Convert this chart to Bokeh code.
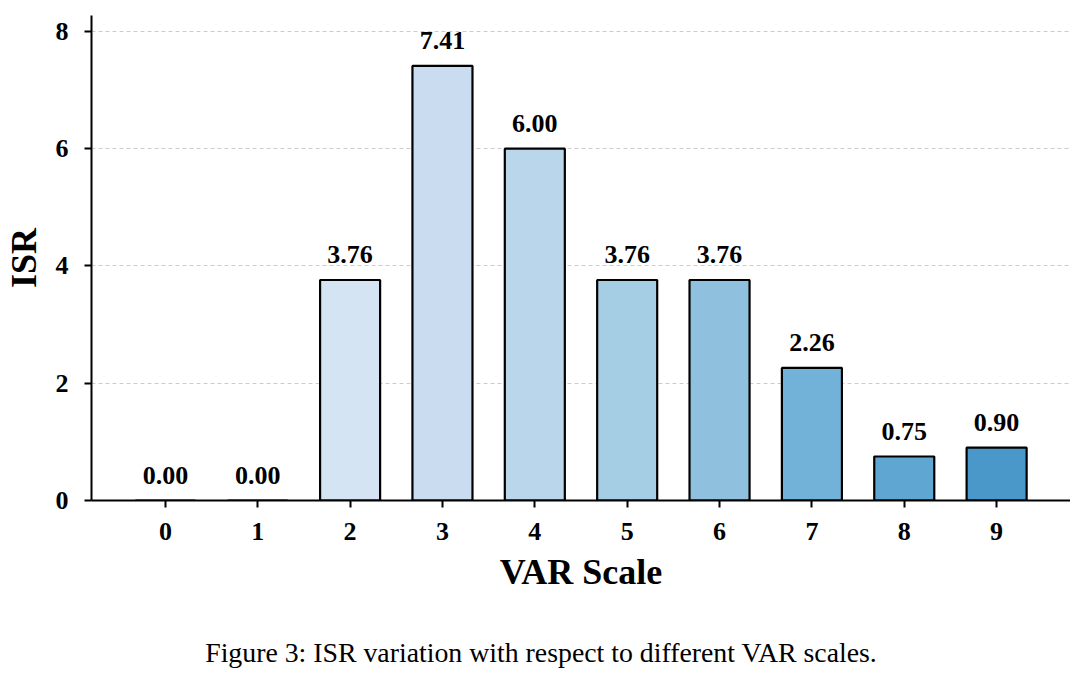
from bokeh.plotting import figure
from bokeh.models import ColumnDataSource, FixedTicker, Range1d, LabelSet, Div
from bokeh.layouts import column
from bokeh.embed import file_html
from bokeh.resources import INLINE

scales = [0, 1, 2, 3, 4, 5, 6, 7, 8, 9]
isr = [0.00, 0.00, 3.76, 7.41, 6.00, 3.76, 3.76, 2.26, 0.75, 0.90]
colors = ["#e3eef9", "#dbe9f6", "#d4e4f3", "#c9dcf0", "#bad6eb", "#a5cde3",
          "#8fc1de", "#73b2d8", "#60a6d2", "#4a98c9"]
labels = [f"{v:.2f}" for v in isr]
y_ticks = [0, 2, 4, 6, 8]
caption = "Figure 3: ISR variation with respect to different VAR scales."

FONT = "Liberation Serif"

src = ColumnDataSource(dict(x=scales, top=isr, color=colors, label=labels))

p = figure(width=1070, height=630, output_backend="svg", toolbar_location=None,
           x_range=Range1d(-0.8, 9.8), y_range=Range1d(0, 8.27),
           min_border_top=15, min_border_right=0, min_border_left=90,
           min_border_bottom=130)

p.vbar(x="x", top="top", width=0.65, bottom=0, source=src, fill_color="color",
       line_color="black", line_width=2.2)

p.add_layout(LabelSet(x="x", y="top", text="label", source=src, text_align="center",
                      text_baseline="bottom", y_offset=17, text_font=FONT,
                      text_font_style="bold", text_font_size="26px", text_color="black"))

p.outline_line_color = None
p.xgrid.grid_line_color = None
p.ygrid.grid_line_color = "#cccccc"
p.ygrid.grid_line_dash = "4 3"
p.ygrid.grid_line_width = 1
p.ygrid.ticker = FixedTicker(ticks=y_ticks)

p.xaxis.ticker = FixedTicker(ticks=scales)
p.yaxis.ticker = FixedTicker(ticks=y_ticks)
for ax in (p.xaxis, p.yaxis):
    ax.axis_line_width = 2
    ax.axis_line_color = "black"
    ax.major_tick_line_width = 2
    ax.major_tick_out = 7
    ax.major_tick_in = 0
    ax.minor_tick_line_color = None
    ax.major_label_text_font = FONT
    ax.major_label_text_font_style = "bold"
    ax.major_label_text_font_size = "26px"
    ax.major_label_text_color = "black"
    ax.axis_label_text_font = FONT
    ax.axis_label_text_font_style = "bold"
    ax.axis_label_text_font_size = "36px"
    ax.axis_label_text_color = "black"

p.xaxis.axis_label = "VAR Scale"
p.yaxis.axis_label = "ISR"
p.xaxis.major_label_standoff = 15
p.xaxis.axis_label_standoff = 9
p.yaxis.major_label_standoff = 16
p.yaxis.axis_label_standoff = 9

cap = Div(text=caption, width=1070, height=40,
          styles={"font-family": FONT, "font-size": "27.8px", "line-height": "36px",
                  "text-align": "center", "text-indent": "2px", "color": "black",
                  "width": "100%"})

layout = column(p, cap, spacing=0)

open("out.html", "w").write(file_html(layout, INLINE))
